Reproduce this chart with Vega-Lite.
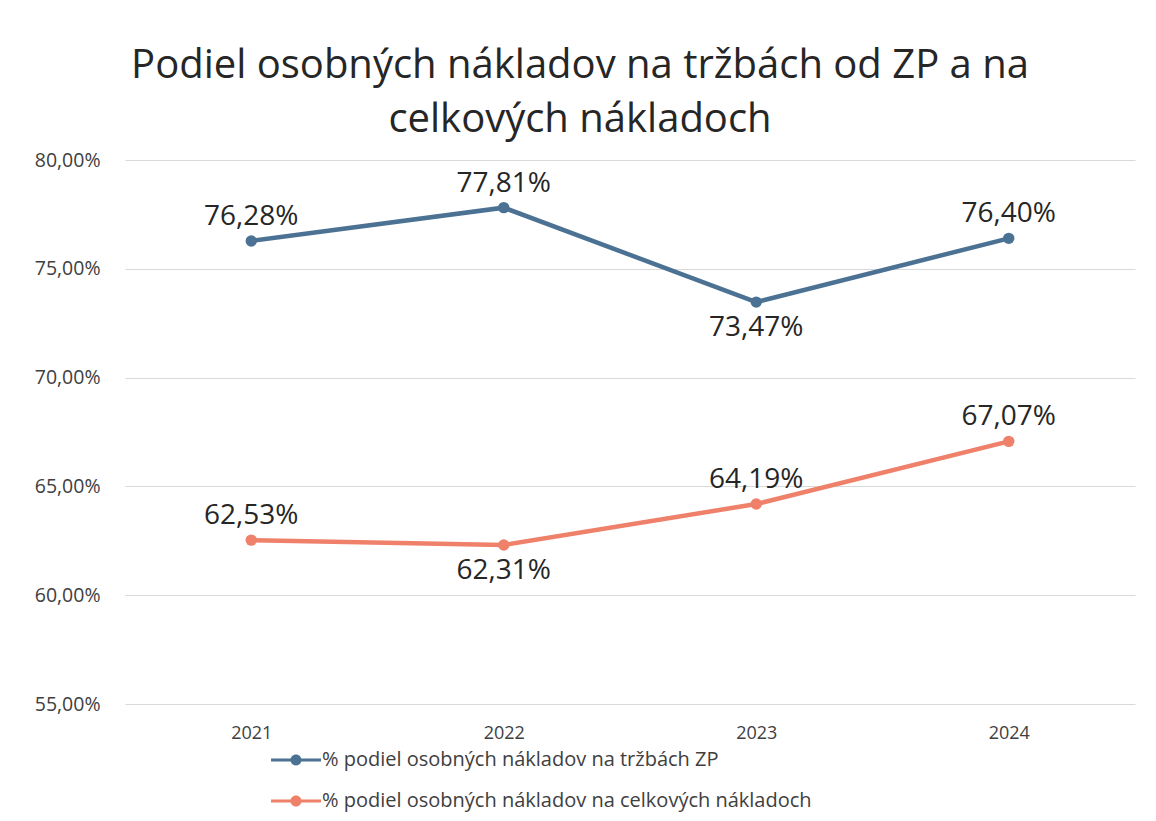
{
  "$schema": "https://vega.github.io/schema/vega-lite/v6.json",
  "autosize": "none",
  "width": 1010,
  "height": 544,
  "padding": {"left": 125, "top": 160, "right": 21, "bottom": 117},
  "background": "white",
  "config": {
    "locale": {"number": {"decimal": ",", "thousands": " ", "grouping": [3], "currency": ["", " €"]}},
    "font": "Open Sans",
    "view": {"stroke": null}
  },
  "title": {
    "text": ["Podiel osobných nákladov na tržbách od ZP a na", "celkových nákladoch"],
    "fontSize": 40,
    "font": "Open Sans",
    "fontWeight": "normal",
    "color": "#262626",
    "anchor": "middle",
    "dx": -50,
    "offset": 10,
    "lineHeight": 54
  },
  "data": {
    "values": [
      {"rok": "2021", "seria": "% podiel osobných nákladov na tržbách ZP", "hodnota": 0.7628},
      {"rok": "2022", "seria": "% podiel osobných nákladov na tržbách ZP", "hodnota": 0.7781},
      {"rok": "2023", "seria": "% podiel osobných nákladov na tržbách ZP", "hodnota": 0.7347},
      {"rok": "2024", "seria": "% podiel osobných nákladov na tržbách ZP", "hodnota": 0.7640},
      {"rok": "2021", "seria": "% podiel osobných nákladov na celkových nákladoch", "hodnota": 0.6253},
      {"rok": "2022", "seria": "% podiel osobných nákladov na celkových nákladoch", "hodnota": 0.6231},
      {"rok": "2023", "seria": "% podiel osobných nákladov na celkových nákladoch", "hodnota": 0.6419},
      {"rok": "2024", "seria": "% podiel osobných nákladov na celkových nákladoch", "hodnota": 0.6707}
    ]
  },
  "encoding": {
    "x": {
      "field": "rok", "type": "ordinal",
      "scale": {"type": "point", "padding": 0.5},
      "axis": {"title": null, "labelAngle": 0, "domain": false, "ticks": false, "grid": false,
               "labelFontSize": 18, "labelColor": "#404040", "labelPadding": 20}
    },
    "y": {
      "field": "hodnota", "type": "quantitative",
      "scale": {"domain": [0.55, 0.80], "nice": false, "zero": false},
      "axis": {"title": null, "format": ".2%", "values": [0.55, 0.60, 0.65, 0.70, 0.75, 0.80],
               "domain": false, "ticks": false, "gridColor": "#d9d9d9", "gridWidth": 1,
               "labelFontSize": 19.5, "labelColor": "#404040", "labelPadding": 25}
    },
    "color": {
      "field": "seria", "type": "nominal",
      "sort": ["% podiel osobných nákladov na tržbách ZP", "% podiel osobných nákladov na celkových nákladoch"],
      "scale": {"domain": ["% podiel osobných nákladov na tržbách ZP", "% podiel osobných nákladov na celkových nákladoch"],
                "range": ["#4b7293", "#ef806a"]},
      "legend": {
        "title": null,
        "orient": "none",
        "direction": "vertical",
        "legendX": 161,
        "legendY": 590,
        "symbolType": "M-2.5,-0.15H2.5V0.15H-2.5Z M-0.55,0A0.55,0.55 0 1,1 0.55,0A0.55,0.55 0 1,1 -0.55,0Z",
        "symbolSize": 400,
        "symbolOffset": 0,
        "labelOffset": 16,
        "labelFontSize": 20,
        "labelColor": "#404040",
        "labelLimit": 800,
        "rowPadding": 21,
        "encode": {
          "symbols": {"update": {"fill": {"scale": "color", "field": "value"}, "strokeWidth": {"value": 0}, "opacity": {"value": 1}}}
        }
      }
    }
  },
  "layer": [
    {"mark": {"type": "line", "strokeWidth": 4.5}},
    {"mark": {"type": "point", "filled": true, "size": 130, "opacity": 1}},
    {
      "transform": [{"filter": "!((datum.rok == '2023' && datum.hodnota > 0.7) || (datum.rok == '2022' && datum.hodnota < 0.7))"}],
      "mark": {"type": "text", "fontSize": 28, "color": "#262626", "baseline": "bottom", "dy": -10},
      "encoding": {"text": {"field": "hodnota", "type": "quantitative", "format": ".2%"}, "color": {"value": "#262626"}}
    },
    {
      "transform": [{"filter": "(datum.rok == '2023' && datum.hodnota > 0.7) || (datum.rok == '2022' && datum.hodnota < 0.7)"}],
      "mark": {"type": "text", "fontSize": 28, "color": "#262626", "baseline": "top", "dy": 12},
      "encoding": {"text": {"field": "hodnota", "type": "quantitative", "format": ".2%"}, "color": {"value": "#262626"}}
    }
  ]
}
